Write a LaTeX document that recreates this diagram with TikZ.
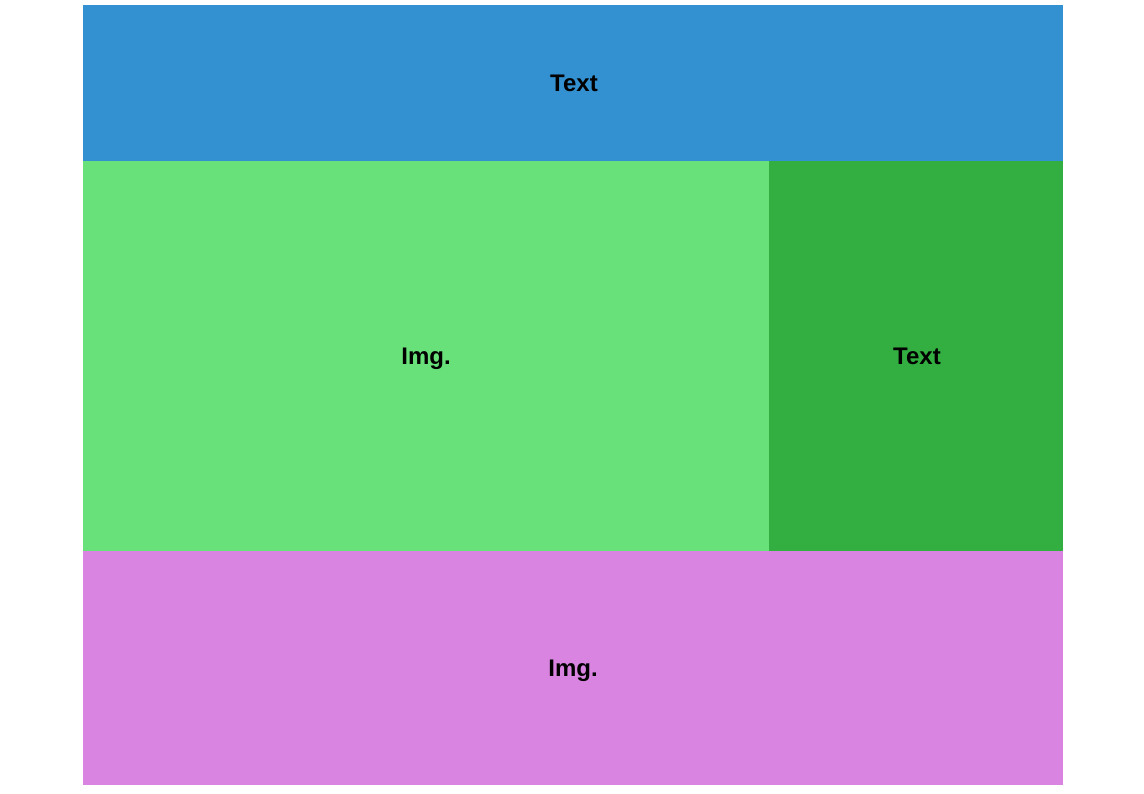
\documentclass[tikz,border=0pt]{standalone}
\usepackage{fontspec}
\setmainfont{Liberation Sans}
\definecolor{cblue}{RGB}{51,145,210}
\definecolor{clgreen}{RGB}{105,225,123}
\definecolor{cdgreen}{RGB}{50,175,64}
\definecolor{cpurple}{RGB}{216,132,224}
\begin{document}
\begin{tikzpicture}[x=1pt,y=-1pt,
  panel/.style={inner sep=0pt,outer sep=0pt,text height=0.716em,text depth=0pt,font=\fontsize{24}{28}\selectfont\bfseries}]
\useasboundingbox (0,0) rectangle (1144,794);
\fill[white] (0,0) rectangle (1144,794);
\fill[cblue] (83,5) rectangle (1063,161);
\fill[clgreen] (83,161) rectangle (769,551);
\fill[cdgreen] (769,161) rectangle (1063,551);
\fill[cpurple] (83,551) rectangle (1063,785);
\node[panel] (t1) at (574,88) {Text};
\node[panel] (i1) at (426,361) {Img.};
\node[panel] (t2) at (917,361) {Text};
\node[panel] (i2) at (573,673) {Img.};
\end{tikzpicture}
\end{document}
